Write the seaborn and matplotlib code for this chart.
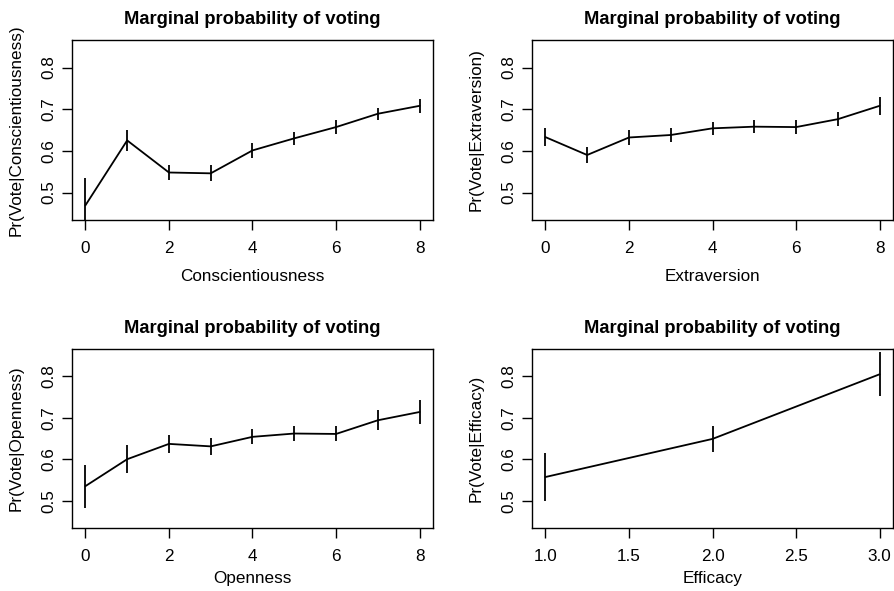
import numpy as np
import pandas as pd
import matplotlib
matplotlib.use("Agg")
import matplotlib.pyplot as plt
import seaborn as sns

sns.set_style("ticks")
plt.rcParams["font.family"] = ["Liberation Sans", "DejaVu Sans"]
plt.rcParams["text.color"] = "black"
plt.rcParams["axes.labelcolor"] = "black"

# ---- data ----
scale_levels = [0, 1, 2, 3, 4, 5, 6, 7, 8]
efficacy_levels = [1, 2, 3]

consc_mean = [0.469, 0.625, 0.548, 0.546, 0.601, 0.630, 0.657, 0.689, 0.708]
consc_err = [0.065, 0.025, 0.019, 0.019, 0.018, 0.016, 0.016, 0.015, 0.017]

extra_mean = [0.633, 0.590, 0.632, 0.638, 0.654, 0.658, 0.657, 0.676, 0.708]
extra_err = [0.021, 0.020, 0.018, 0.017, 0.016, 0.016, 0.016, 0.017, 0.021]

open_mean = [0.535, 0.600, 0.637, 0.631, 0.654, 0.662, 0.661, 0.694, 0.714]
open_err = [0.052, 0.034, 0.022, 0.021, 0.018, 0.018, 0.018, 0.024, 0.029]

eff_mean = [0.557, 0.649, 0.805]
eff_err = [0.058, 0.031, 0.053]

title = "Marginal probability of voting"
panels = [
    ("Conscientiousness", scale_levels, consc_mean, consc_err, [0, 2, 4, 6, 8], "{:.0f}"),
    ("Extraversion", scale_levels, extra_mean, extra_err, [0, 2, 4, 6, 8], "{:.0f}"),
    ("Openness", scale_levels, open_mean, open_err, [0, 2, 4, 6, 8], "{:.0f}"),
    ("Efficacy", efficacy_levels, eff_mean, eff_err, [1.0, 1.5, 2.0, 2.5, 3.0], "{:.1f}"),
]
yticks = [0.5, 0.6, 0.7, 0.8]
ylim_base = (0.45, 0.85)

W, H = 895, 591
fig = plt.figure(figsize=(W / 100, H / 100), dpi=100)
boxes = [(72, 40, 433, 220), (532, 40, 893, 220), (72, 349, 433, 528), (532, 349, 893, 528)]
xlabel_pads = [9.5, 9.5, 5.0, 5.0]

for (name, xs, mean, err, xt, fmt), (l, t, r, b), xlp in zip(panels, boxes, xlabel_pads):
    ax = fig.add_axes([l / W, 1 - b / H, (r - l) / W, (b - t) / H])
    df = pd.DataFrame({"x": xs, "y": mean, "e": err})
    sns.lineplot(data=df, x="x", y="y", ax=ax, color="black", lw=1.3)
    ax.vlines(df["x"], df["y"] - df["e"], df["y"] + df["e"], color="black", lw=1.3)
    x0, x1 = min(xs), max(xs)
    dx = (x1 - x0) * 0.04
    ax.set_xlim(x0 - dx, x1 + dx)
    dy = (ylim_base[1] - ylim_base[0]) * 0.04
    ax.set_ylim(ylim_base[0] - dy, ylim_base[1] + dy)
    ax.set_xticks(xt)
    ax.set_xticklabels([fmt.format(v) for v in xt])
    ax.set_yticks(yticks)
    ax.set_yticklabels([f"{v:.1f}" for v in yticks], rotation=90, va="center")
    for s in ax.spines.values():
        s.set_visible(True)
        s.set_linewidth(1.0)
        s.set_color("black")
    ax.tick_params(axis="both", direction="out", length=7, width=1.0, color="black",
                   labelsize=12.3, labelcolor="black")
    ax.tick_params(axis="x", pad=8.0)
    ax.tick_params(axis="y", pad=4)
    ax.set_xlabel(name, fontsize=12.3, labelpad=xlp, color="black")
    ax.set_ylabel(f"Pr(Vote|{name})", fontsize=12.3, labelpad=13, color="black")
    ax.set_title(title, fontsize=13.2, fontweight="bold", pad=11.5, color="black")

fig.savefig("out.png", dpi=100)
